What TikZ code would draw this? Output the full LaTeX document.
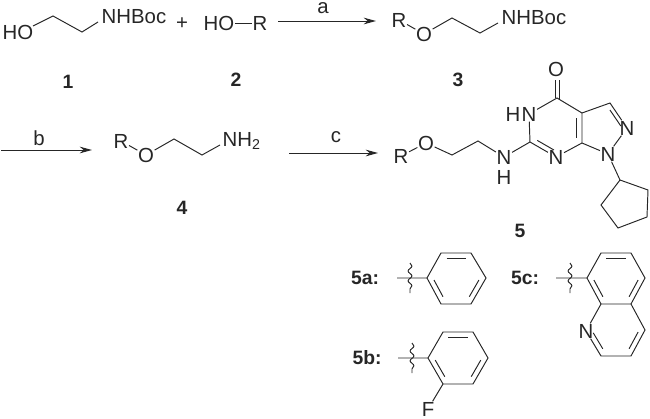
\documentclass[tikz,border=0pt]{standalone}
\usepackage{fontspec}
\setmainfont{Liberation Sans}
\usetikzlibrary{arrows.meta,calc,decorations.pathmorphing}
\definecolor{ink}{HTML}{262626}
\tikzset{
	atom/.style={inner sep=0.2pt, font=\fontsize{11.6}{13}\selectfont, text=ink},
	cmpd/.style={inner sep=0.6pt, font=\fontsize{11}{13}\selectfont\bfseries, text=ink},
	bond/.style={draw=ink, line width=0.55pt},
	rxn/.style={draw=ink, line width=0.55pt, -{Stealth[length=7pt,width=3.8pt]}},
	wavy/.style={draw=ink, line width=0.55pt, decorate, decoration={snake, amplitude=1.1pt, segment length=5.6pt}},
}
% inner line of a ring double bond: ends, ring centre
\newcommand{\inbond}[3]{
	\draw[bond] ($(#3)!.8!($(#1)!.1!(#2)$)$) -- ($(#3)!.8!($(#2)!.1!(#1)$)$);
}
\begin{document}
\begin{tikzpicture}[x=0.02cm, y=-0.02cm]
	\useasboundingbox (0,0) rectangle (650,419);

	% 1 + 2
	\node[atom] (ho1) at (18,32) {HO};
	\coordinate (c1a) at (53,16);
	\coordinate (c1b) at (82,32);
	\node[atom, anchor=west] (n1) at (101,17) {NHBoc};
	\draw[bond] (33,26) -- (c1a) -- (c1b) -- (98,22);
	\node[atom] (plus) at (182,24) {+};
	\node[atom] (ho2) at (219,23) {HO};
	\node[atom] (r2) at (260,23) {R};
	\draw[bond] (ho2) -- (r2);
	\node[cmpd] (lab1) at (68,82) {1};
	\node[cmpd] (lab2) at (236,80) {2};

	% step a
	\coordinate (a0) at (278,21);
	\coordinate (a1) at (376,21);
	\draw[rxn] (a0) -- (a1);
	\node[atom] (la) at (323,8) {a};

	% 3
	\node[atom] (r3) at (399,20) {R};
	\node[atom] (o3) at (424,34) {O};
	\coordinate (c3a) at (452,18);
	\coordinate (c3b) at (480,33);
	\node[atom, anchor=west] (n3) at (501,18) {NHBoc};
	\draw[bond] (r3) -- (o3) -- (c3a) -- (c3b) -- (498,23);
	\node[cmpd] (lab3) at (458,80) {3};

	% step b
	\coordinate (b0) at (1,150);
	\coordinate (b1) at (92,150);
	\draw[rxn] (b0) -- (b1);
	\node[atom] (lb) at (39,138) {b};

	% 4
	\node[atom] (r4) at (121,141) {R};
	\node[atom] (o4) at (146,155) {O};
	\coordinate (c4a) at (174,139);
	\coordinate (c4b) at (202,155);
	\node[atom, anchor=west] (n4) at (222,141) {NH\textsubscript{2}};
	\draw[bond] (r4) -- (o4) -- (c4a) -- (c4b) -- (220,145);
	\node[cmpd] (lab4) at (182,208) {4};

	% step c
	\coordinate (c0) at (289,153);
	\coordinate (c1) at (378,153);
	\draw[rxn] (c0) -- (c1);
	\node[atom] (lc) at (336,137) {c};

	% 5
	\node[atom] (r5) at (401,156) {R};
	\node[atom] (o5) at (426,143) {O};
	\coordinate (c5a) at (452,155);
	\coordinate (c5b) at (478,141);
	\node[atom] (nh5) at (504,157) {N};
	\node[atom] (h5) at (504,177) {H};
	\coordinate (c2) at (530,142);
	\node[atom] (n3h) at (529,114) {N};
	\node[atom, anchor=east] (h3) at (n3h.west) {H};
	\coordinate (c4) at (557,98);
	\node[atom] (o4x) at (556,69) {O};
	\coordinate (c4x) at (582,113);
	\coordinate (c7x) at (582,143);
	\node[atom] (n7) at (556,157) {N};
	\node[atom] (n1x) at (608,154) {N};
	\node[atom] (n2x) at (627,128) {N};
	\coordinate (c3x) at (610,103);
	\coordinate (cp1) at (620,180);
	\coordinate (cp2) at (648,190);
	\coordinate (cp3) at (647,217);
	\coordinate (cp4) at (618,228);
	\coordinate (cp5) at (601,205);
	\coordinate (mid6) at (556,128);
	\coordinate (mid5) at (603,128);
	\draw[bond] (r5) -- (o5) -- (c5a) -- (c5b) -- (nh5) -- (c2) -- (n3h);
	\draw[bond] (n3h) -- (c4) -- (c4x) -- (c7x) -- (n7) -- (c2);
	\draw[bond] (c4x) -- (c3x) -- (n2x) -- (n1x) -- (c7x);
	\draw[bond] (n1x) -- (cp1) -- (cp2) -- (cp3) -- (cp4) -- (cp5) -- (cp1);
	\draw[bond] (555,80) -- (555,98);
	\draw[bond] (559.5,80) -- (559.5,99);
	\inbond{c4x}{c7x}{mid6}
	\inbond{c2}{n7}{mid6}
	\inbond{c3x}{n2x}{mid5}
	\node[cmpd] (lab5) at (520,231) {5};

	% 5a
	\node[cmpd] (lab5a) at (365,278) {5a:};
	\coordinate (a1r) at (427,278);
	\coordinate (a2r) at (441,253);
	\coordinate (a3r) at (471,253);
	\coordinate (a4r) at (486,278);
	\coordinate (a5r) at (471,304);
	\coordinate (a6r) at (441,304);
	\coordinate (amid) at (456.5,278);
	\coordinate (astub) at (397,278);
	\coordinate (aw0) at (410,263);
	\coordinate (aw1) at (410,293);
	\draw[bond] (astub) -- (a1r) -- (a2r) -- (a3r) -- (a4r) -- (a5r) -- (a6r) -- (a1r);
	\inbond{a2r}{a3r}{amid}
	\inbond{a4r}{a5r}{amid}
	\inbond{a6r}{a1r}{amid}
	\draw[wavy] (aw0) -- (aw1);

	% 5b
	\node[cmpd] (lab5b) at (367,358) {5b:};
	\coordinate (b1r) at (428,358);
	\coordinate (b2r) at (443,332);
	\coordinate (b3r) at (473,332);
	\coordinate (b4r) at (488,358);
	\coordinate (b5r) at (473,384);
	\coordinate (b6r) at (443,384);
	\coordinate (bmid) at (458,358);
	\coordinate (bstub) at (398,358);
	\coordinate (bw0) at (412,343);
	\coordinate (bw1) at (412,373);
	\node[atom] (f5) at (428,409) {F};
	\draw[bond] (bstub) -- (b1r) -- (b2r) -- (b3r) -- (b4r) -- (b5r) -- (b6r) -- (b1r);
	\draw[bond] (b6r) -- (f5);
	\inbond{b2r}{b3r}{bmid}
	\inbond{b4r}{b5r}{bmid}
	\inbond{b6r}{b1r}{bmid}
	\draw[wavy] (bw0) -- (bw1);

	% 5c
	\node[cmpd] (lab5c) at (525,278) {5c:};
	\coordinate (q1) at (587,278);
	\coordinate (q2) at (601,253);
	\coordinate (q3) at (631,253);
	\coordinate (q4) at (645,278);
	\coordinate (q5) at (631,304);
	\coordinate (q6) at (601,304);
	\node[atom] (qn) at (586,331) {N};
	\coordinate (q7) at (601,356);
	\coordinate (q8) at (631,356);
	\coordinate (q9) at (645,330);
	\coordinate (qmid) at (616,278);
	\coordinate (qmid2) at (616,330);
	\coordinate (qstub) at (556,278);
	\coordinate (qw0) at (570,263);
	\coordinate (qw1) at (570,293);
	\draw[bond] (qstub) -- (q1) -- (q2) -- (q3) -- (q4) -- (q5) -- (q6) -- (q1);
	\draw[bond] (q6) -- (qn) -- (q7) -- (q8) -- (q9) -- (q5);
	\inbond{q2}{q3}{qmid}
	\inbond{q4}{q5}{qmid}
	\inbond{q6}{q1}{qmid}
	\inbond{q8}{q9}{qmid2}
	\inbond{qn}{q7}{qmid2}
	\draw[wavy] (qw0) -- (qw1);
\end{tikzpicture}
\end{document}
